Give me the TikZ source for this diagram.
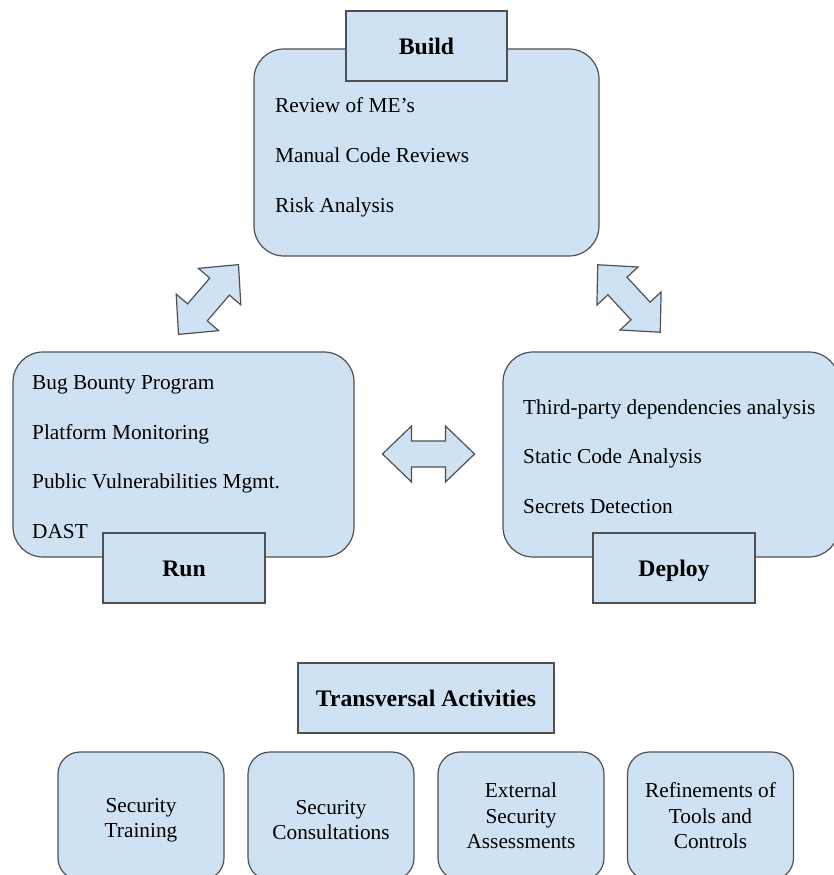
\documentclass[tikz,border=0pt]{standalone}
\usepackage{fontspec}
\setmainfont{Liberation Serif}
\definecolor{boxfill}{HTML}{CFE2F3}
\definecolor{boxline}{HTML}{505050}
\begin{document}
\begin{tikzpicture}[x=1pt,y=-1pt,
  base/.style={draw=boxline,fill=boxfill,line width=1.2pt},
  bigbox/.style={base,rectangle,rounded corners=30pt,inner sep=0pt},
  smallbox/.style={base,rectangle,rounded corners=22pt,inner sep=0pt,minimum width=166pt,minimum height=128pt,align=center,font=\fontsize{21.3}{25.5}\selectfont},
  twoline/.style={text height=48pt},
  labelbox/.style={base,rectangle,inner sep=0pt,minimum height=70pt,text height=20pt,text depth=3pt,font=\fontsize{23.7}{28}\selectfont\bfseries},
  item/.style={anchor=base west,inner sep=0pt,font=\fontsize{21.3}{25}\selectfont},
  dblarrow/.style={base,line join=miter}]
\useasboundingbox (0,0) rectangle (834,875);
\clip (0,0) rectangle (834,875);
% big boxes
\node[bigbox,minimum width=345pt,minimum height=207pt] (build) at (426.5,152.5) {};
\node[bigbox,minimum width=341pt,minimum height=205pt] (run) at (183.5,454.5) {};
\node[bigbox,minimum width=336pt,minimum height=205pt] (deploy) at (671,454.5) {};
% label boxes
\node[labelbox,minimum width=161pt] (buildlbl) at (426.5,46) {Build};
\node[labelbox,minimum width=162pt] (runlbl) at (184,568) {Run};
\node[labelbox,minimum width=162pt] (deploylbl) at (674,568) {Deploy};
% items
\node[item] (b1) at (275,112.5) {Review of ME’s};
\node[item] (b2) at (275,162) {Manual Code Reviews};
\node[item] (b3) at (275,212) {Risk Analysis};
\node[item] (r1) at (32,389) {Bug Bounty Program};
\node[item] (r2) at (32,439) {Platform Monitoring};
\node[item] (r3) at (32,488) {Public Vulnerabilities Mgmt.};
\node[item] (r4) at (32,538) {DAST};
\node[item] (d1) at (523,414) {Third-party dependencies analysis};
\node[item] (d2) at (523,463) {Static Code Analysis};
\node[item] (d3) at (523,513) {Secrets Detection};
% double arrows
\foreach \cx/\cy/\ang in {208.5/299.5/49.3, 629/298.5/-47.2, 428.5/454/0}{
  \begin{scope}[shift={(\cx,\cy)},rotate=\ang]
    \draw[dblarrow] (-46,0) -- (-17,28) -- (-17,13) -- (17,13) -- (17,28) -- (46,0)
      -- (17,-28) -- (17,-13) -- (-17,-13) -- (-17,-28) -- cycle;
  \end{scope}
}
% transversal
\node[labelbox,minimum width=256pt] (trans) at (426,698) {Transversal Activities};
\node[smallbox,twoline] (t1) at (141,816) {Security\\Training};
\node[smallbox,twoline] (t2) at (331,816) {Security\\Consultations};
\node[smallbox] (t3) at (521,816) {External\\Security\\Assessments};
\node[smallbox] (t4) at (710.5,816) {Refinements of\\Tools and\\Controls};
\end{tikzpicture}
\end{document}
